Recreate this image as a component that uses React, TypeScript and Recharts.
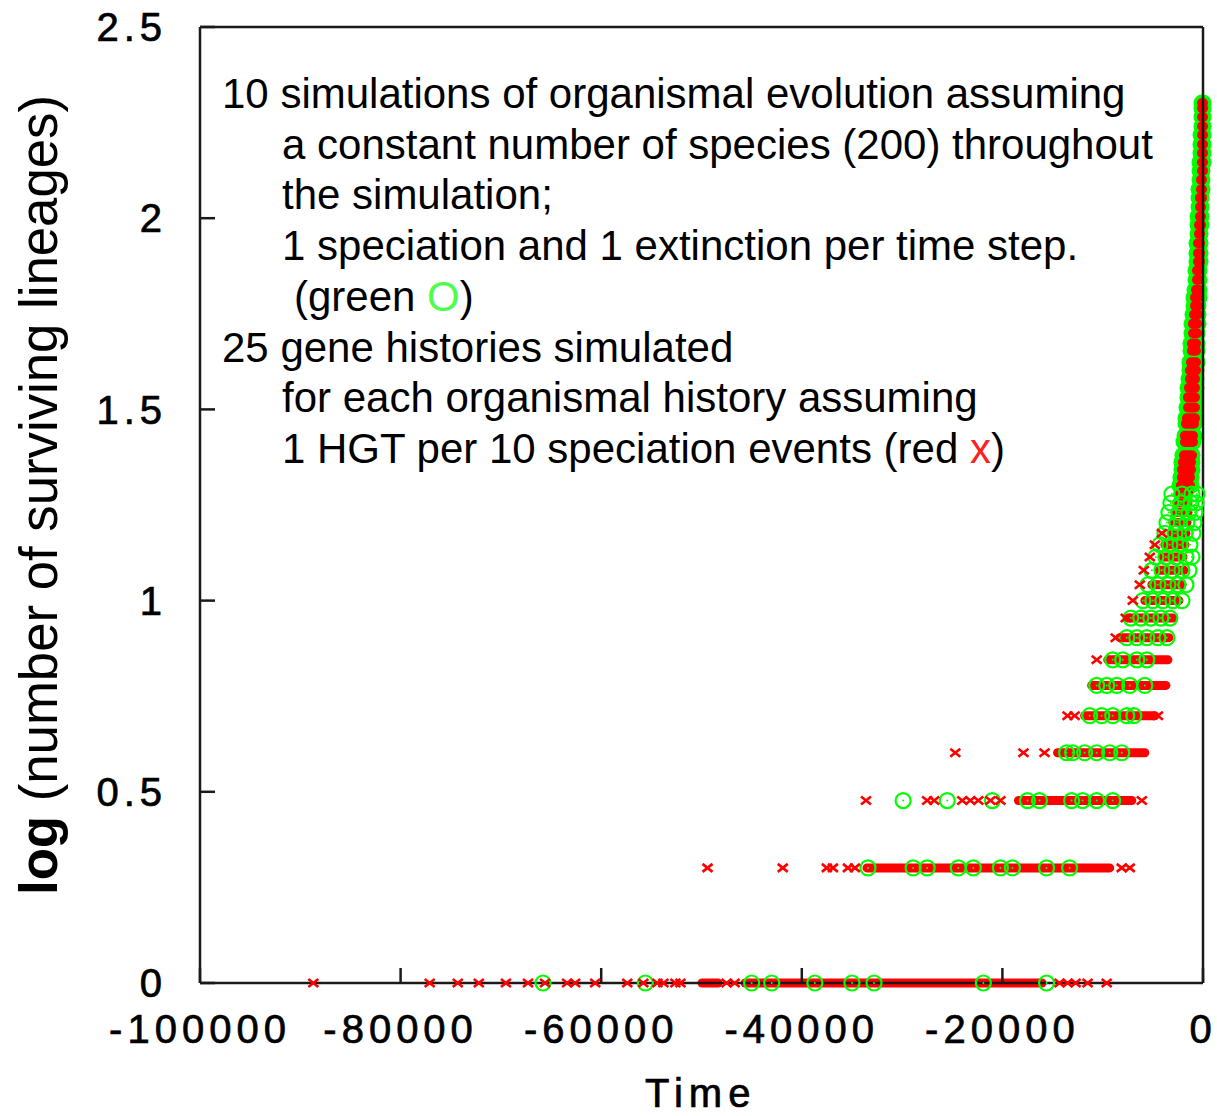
import React from 'react';
import { ScatterChart, Scatter, XAxis, YAxis, ReferenceLine } from 'recharts';

// ---- axes ----
const X_TICKS = [-100000, -80000, -60000, -40000, -20000, 0];
const Y_TICKS = [0, 0.5, 1, 1.5, 2, 2.5];

// ---- dense runs of red x (gene histories): lineage count, first and last time of the run ----
const RED_RUNS = [
  { n: 1, from: -49950, to: -48350 },
  { n: 1, from: -45650, to: -16050 },
  { n: 2, from: -33500, to: -9300 },
  { n: 3, from: -18400, to: -7100 },
  { n: 4, from: -14500, to: -5800 },
  { n: 5, from: -11800, to: -4800 },
  { n: 6, from: -11100, to: -3700 },
  { n: 7, from: -9500, to: -3500 },
  { n: 8, from: -8300, to: -3400 },
  { n: 9, from: -7500, to: -3000 },
  { n: 10, from: -5800, to: -2400 },
  { n: 11, from: -5100, to: -2100 },
  { n: 12, from: -4400, to: -1900 },
  { n: 13, from: -4000, to: -2000 },
  { n: 14, from: -3800, to: -1800 },
  { n: 15, from: -3100, to: -1700 },
  { n: 16, from: -3000, to: -1600 },
  { n: 17, from: -2800, to: -1500 },
  { n: 18, from: -2600, to: -1500 },
  { n: 19, from: -2500, to: -1400 },
];

// ---- isolated red x points ----
const RED_SINGLES = [
  { n: 1, t: [-88700, -77100, -74300, -72200, -69500, -67300, -65600, -63400, -62600, -60600, -57400, -55800, -54400, -53800, -52600, -52100, -47500, -46700, -14300, -13500, -12700, -11500, -9600] },
  { n: 2, t: [-49400, -41900, -37500, -36900, -35400, -34700, -8100, -7300] },
  { n: 3, t: [-33600, -27500, -26800, -24000, -23200, -22400, -21200, -20200, -6100] },
  { n: 4, t: [-24700, -17900, -15800] },
  { n: 5, t: [-13500, -12800, -4500] },
  { n: 7, t: [-10600] },
  { n: 8, t: [-8700] },
  { n: 9, t: [-7700] },
  { n: 10, t: [-7000] },
  { n: 11, t: [-6300] },
  { n: 12, t: [-5900] },
  { n: 13, t: [-5300] },
  { n: 14, t: [-4800] },
  { n: 15, t: [-4100] },
];

// ---- isolated green O points (organismal histories) ----
const GREEN_SINGLES = [
  { n: 1, t: [-65800, -55600, -45000, -43000, -38700, -35000, -32800, -21900, -15600] },
  { n: 2, t: [-33400, -28900, -27500, -24400, -22900, -20200, -19000, -15600, -13300] },
  { n: 3, t: [-29900, -25500, -21000, -17500, -16300, -13100, -12000, -10600, -9000] },
  { n: 4, t: [-13600, -13000, -11800, -10600, -9300, -8100] },
  { n: 5, t: [-11300, -10100, -9000, -7600, -6900] },
  { n: 6, t: [-10600, -9600, -8600, -7300, -5800] },
  { n: 7, t: [-9000, -8000, -6600, -5600] },
  { n: 8, t: [-7600, -6600, -5600, -4500, -3600] },
  { n: 9, t: [-7200, -6200, -5200, -4200, -3300] },
  { n: 10, t: [-6000, -5000, -4000, -3000, -2100] },
  { n: 11, t: [-5500, -4500, -3500, -2500, -1700] },
  { n: 12, t: [-5100, -4100, -3100, -2100, -1400] },
  { n: 13, t: [-4700, -3700, -2700, -1700, -1100] },
  { n: 14, t: [-4300, -3300, -2300, -1300] },
  { n: 15, t: [-3800, -2800, -1800, -1000] },
  { n: 16, t: [-3600, -2600, -1600, -900] },
  { n: 17, t: [-3400, -2400, -1400, -800] },
  { n: 18, t: [-3200, -2200, -1200, -700] },
  { n: 19, t: [-3100, -2100, -1100, -600] },
];

// ---- dense band near the present (lineage counts 20..200) ----
const BAND_COUNTS = [20, 21, 22, 23, 24, 26, 27, 29, 30, 32, 34, 36, 38, 40, 42, 45, 47, 50, 53, 56, 59, 62, 65, 69, 73, 77, 81, 86, 91, 96, 101, 107, 113, 119, 126, 133, 140, 148, 156, 165, 174, 184, 194, 200];
const BAND_RED_FROM = [-2200, -2100, -2100, -2000, -1900, -1800, -1800, -1700, -1600, -1500, -1500, -1400, -1300, -1300, -1200, -1100, -1100, -1000, -1000, -900, -800, -800, -700, -600, -600, -500, -500, -500, -400, -400, -300, -300, -300, -200, -200, -100, -100, -100, -100, -100, -100, -100, -100, -100];
const BAND_RED_TO = [-1300, -1300, -1200, -1200, -1100, -1000, -1000, -900, -800, -800, -800, -800, -800, -700, -700, -700, -700, -600, -600, -500, -500, -500, -400, -400, -400, -300, -300, -300, -300, -200, -200, -200, -100, -100, -100, 0, 0, 0, 0, 0, 0, 0, 0, 0];
const BAND_GREEN_FROM = [-2300, -2200, -2100, -2100, -2000, -1900, -1800, -1700, -1700, -1600, -1500, -1500, -1400, -1300, -1300, -1200, -1200, -1100, -1100, -1000, -900, -900, -800, -700, -700, -600, -600, -600, -500, -500, -500, -400, -400, -400, -300, -300, -300, -200, -200, -200, -100, -100, -100, -100];
const BAND_GREEN_TO = [-1200, -1200, -1100, -1100, -1100, -1000, -900, -900, -800, -800, -800, -700, -700, -700, -600, -600, -600, -600, -500, -500, -500, -400, -400, -400, -400, -300, -300, -300, -300, -200, -200, -200, -200, -100, -100, -100, 0, 0, 0, 0, 0, 0, 0, 0];

const RED = '#ff0000';
const GREEN = '#00ff00';
const AXIS = '#1a1a1a';
const FONT = '"Liberation Sans", Arial, Helvetica, sans-serif';

const lg = (n: number) => Math.log10(n);

const redPoints = RED_SINGLES.flatMap((row) => row.t.map((t) => ({ x: t, y: lg(row.n) })));
const greenPoints = GREEN_SINGLES.flatMap((row) => row.t.map((t) => ({ x: t, y: lg(row.n) })));

const RedX = (props: any) => {
  const { cx, cy } = props;
  if (cx == null || cy == null) return <g />;
  return (
    <g stroke={RED} strokeWidth={2.6}>
      <line x1={cx - 5} y1={cy - 4} x2={cx + 5} y2={cy + 4} />
      <line x1={cx - 5} y1={cy + 4} x2={cx + 5} y2={cy - 4} />
    </g>
  );
};

const GreenO = (props: any) => {
  const { cx, cy } = props;
  if (cx == null || cy == null) return <g />;
  return (
    <g>
      <circle cx={cx} cy={cy} r={7.5} fill="none" stroke={GREEN} strokeWidth={2.2} />
      <circle cx={cx} cy={cy} r={1} fill={GREEN} />
    </g>
  );
};

const seg = (from: number, to: number, n: number) => [
  { x: from, y: lg(n) },
  { x: to, y: lg(n) },
];

const tickStyle = { fill: '#000', stroke: '#000', strokeWidth: 0.7, fontSize: 40, fontFamily: FONT, letterSpacing: 5 };

export default function App() {
  return (
    <div style={{ position: 'absolute', left: 0, top: 0, width: 1217, height: 1116, background: '#fff' }}>
      <ScatterChart width={1217} height={1116} margin={{ top: 26, right: 13, bottom: 0, left: 0 }}>
        <XAxis
          xAxisId="b"
          type="number"
          dataKey="x"
          orientation="bottom"
          domain={[-100000, 0]}
          ticks={X_TICKS}
          interval={0}
          height={133}
          tickSize={-15}
          tickMargin={47}
          axisLine={{ stroke: AXIS, strokeWidth: 2.5 }}
          tickLine={{ stroke: AXIS, strokeWidth: 2.5 }}
          tick={tickStyle}
          tickFormatter={(v: number) => String(v)}
        />
        <XAxis
          xAxisId="t"
          type="number"
          dataKey="x"
          orientation="top"
          domain={[-100000, 0]}
          ticks={X_TICKS}
          interval={0}
          height={1}
          tickSize={-15}
          tick={false}
          axisLine={{ stroke: AXIS, strokeWidth: 2.5 }}
          tickLine={{ stroke: AXIS, strokeWidth: 2.5 }}
        />
        <YAxis
          yAxisId="l"
          type="number"
          dataKey="y"
          domain={[0, 2.5]}
          ticks={Y_TICKS}
          interval={0}
          width={200}
          tickSize={-15}
          tickMargin={48}
          axisLine={{ stroke: AXIS, strokeWidth: 2.5 }}
          tickLine={{ stroke: AXIS, strokeWidth: 2.5 }}
          tick={tickStyle}
          tickFormatter={(v: number) => String(v)}
        />
        <YAxis
          yAxisId="r"
          type="number"
          dataKey="y"
          orientation="right"
          domain={[0, 2.5]}
          ticks={Y_TICKS}
          interval={0}
          width={1}
          tickSize={-15}
          tick={false}
          axisLine={{ stroke: AXIS, strokeWidth: 2.5 }}
          tickLine={{ stroke: AXIS, strokeWidth: 2.5 }}
        />

        {BAND_COUNTS.map((n, i) => (
          <ReferenceLine
            key={`gb${i}`}
            xAxisId="b"
            yAxisId="l"
            ifOverflow="visible"
            segment={seg(BAND_GREEN_FROM[i], BAND_GREEN_TO[i], n)}
            stroke={GREEN}
            strokeWidth={17}
            strokeLinecap="round"
          />
        ))}

        <Scatter
          xAxisId="b"
          yAxisId="l"
          data={greenPoints}
          isAnimationActive={false}
          shape={(p: any) => <GreenO {...p} />}
        />

        {RED_RUNS.map((r, i) => (
          <ReferenceLine
            key={`rr${i}`}
            xAxisId="b"
            yAxisId="l"
            ifOverflow="visible"
            segment={seg(r.from, r.to, r.n)}
            stroke={RED}
            strokeWidth={9}
            strokeLinecap="round"
          />
        ))}

        {BAND_COUNTS.map((n, i) => (
          <ReferenceLine
            key={`rb${i}`}
            xAxisId="b"
            yAxisId="l"
            ifOverflow="visible"
            segment={seg(BAND_RED_FROM[i], BAND_RED_TO[i], n)}
            stroke={RED}
            strokeWidth={10}
            strokeLinecap="round"
          />
        ))}

        <Scatter
          xAxisId="b"
          yAxisId="l"
          data={redPoints}
          isAnimationActive={false}
          shape={(p: any) => <RedX {...p} />}
        />
      </ScatterChart>

      <svg
        width={1217}
        height={1116}
        style={{ position: 'absolute', left: 0, top: 0, pointerEvents: 'none' }}
        fontFamily={FONT}
      >
        <g fontSize={42} fill="#000">
          <text x={222} y={108}>10 simulations of organismal evolution assuming</text>
          <text x={282} y={159}>a constant number of species (200) throughout</text>
          <text x={282} y={209}>the simulation;</text>
          <text x={282} y={260}>1 speciation and 1 extinction per time step.</text>
          <text x={294} y={311}>(green <tspan fill="#4dff4d">O</tspan>)</text>
          <text x={222} y={362}>25 gene histories simulated</text>
          <text x={282} y={412}>for each organismal history assuming</text>
          <text x={282} y={463}>1 HGT per 10 speciation events (red <tspan fill="#ff2020">x</tspan>)</text>
        </g>
        <text x={645} y={1107} fontSize={40} letterSpacing={6} fill="#000" stroke="#000" strokeWidth={0.7}>Time</text>
        <text
          transform="translate(57,895) rotate(-90)"
          fontSize={53}
          textLength={800}
          lengthAdjust="spacingAndGlyphs"
          fill="#000"
        >
          <tspan fontWeight="bold">log</tspan> (number of surviving lineages)
        </text>
      </svg>
    </div>
  );
}
